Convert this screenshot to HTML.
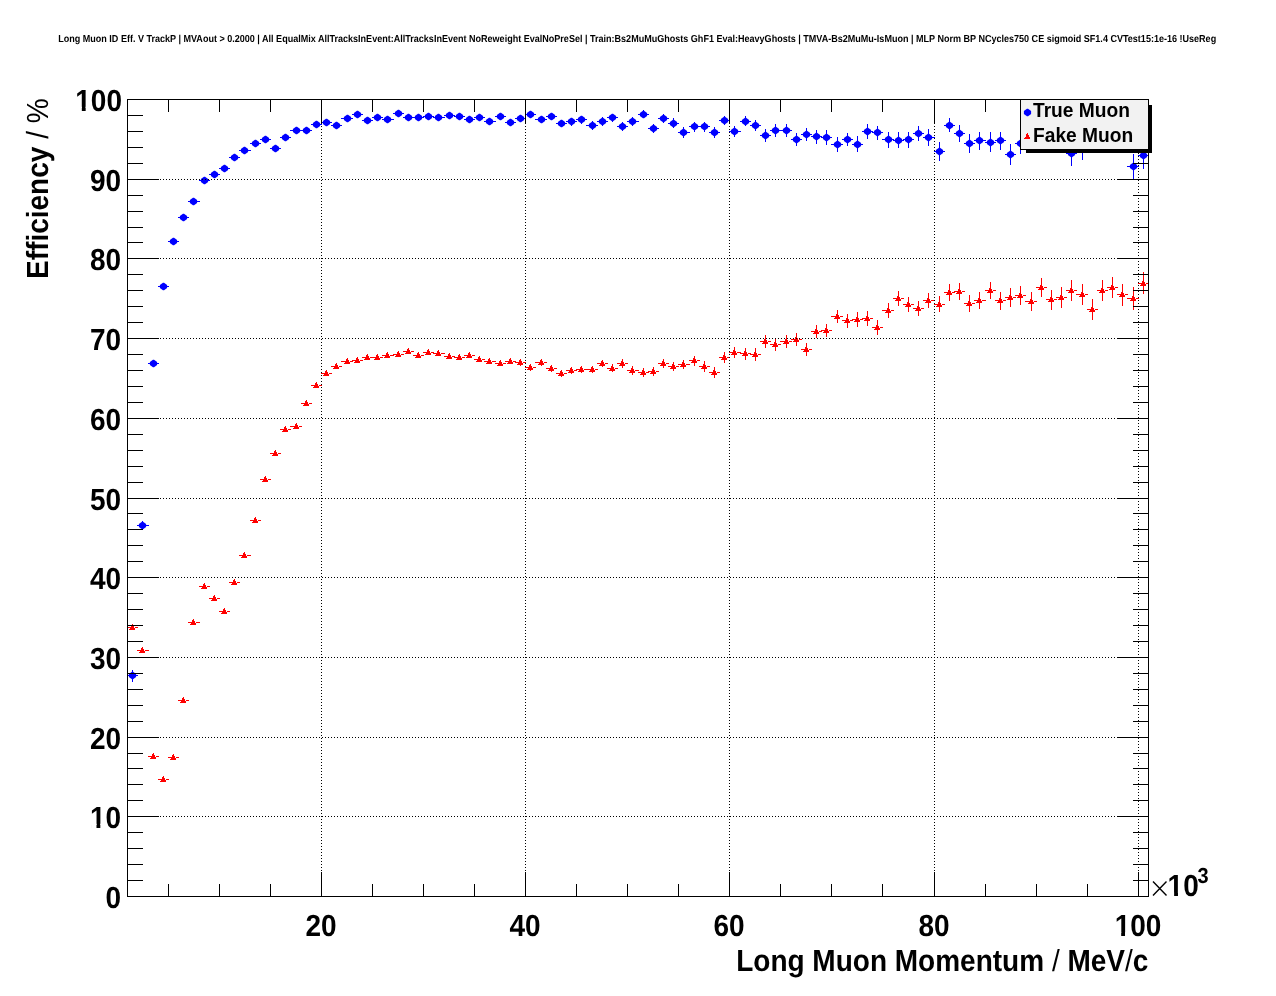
<!DOCTYPE html>
<html><head><meta charset="utf-8"><title>Long Muon ID Eff. V TrackP</title>
<style>
html,body{margin:0;padding:0;background:#fff;}
body{width:1276px;height:996px;position:relative;overflow:hidden;font-family:"Liberation Sans",sans-serif;}
</style></head><body>
<svg width="1276" height="996" viewBox="0 0 1276 996" style="position:absolute;left:0;top:0;will-change:transform">
<g shape-rendering="crispEdges" stroke="#0000ff" stroke-width="1" fill="none">
<path d="M127 675.5H138M132.5 670V682"/>
<path d="M137 525.5H149M142.5 521V530"/>
<path d="M148 363.5H159M153.5 360V366"/>
<path d="M158 286.5H169M163.5 283V290"/>
<path d="M168 241.5H179M173.5 238V245"/>
<path d="M178 217.5H189M183.5 214V221"/>
<path d="M188 201.5H200M193.5 198V205"/>
<path d="M199 180.5H210M204.5 177V184"/>
<path d="M209 174.5H220M214.5 171V178"/>
<path d="M219 168.5H230M224.5 165V172"/>
<path d="M229 157.5H240M234.5 154V161"/>
<path d="M239 150.5H251M244.5 147V154"/>
<path d="M250 143.5H261M255.5 140V147"/>
<path d="M260 139.5H271M265.5 136V143"/>
<path d="M270 148.5H281M275.5 145V152"/>
<path d="M280 137.5H291M285.5 134V141"/>
<path d="M290 130.5H302M296.5 127V134"/>
<path d="M301 130.5H312M306.5 127V134"/>
<path d="M311 124.5H322M316.5 121V128"/>
<path d="M321 122.5H332M326.5 119V126"/>
<path d="M331 125.5H342M336.5 122V129"/>
<path d="M341 118.5H353M347.5 115V122"/>
<path d="M352 114.5H363M357.5 111V118"/>
<path d="M362 120.5H373M367.5 117V124"/>
<path d="M372 117.5H383M377.5 114V121"/>
<path d="M382 119.5H394M387.5 116V123"/>
<path d="M393 113.5H404M398.5 110V117"/>
<path d="M403 117.5H414M408.5 114V121"/>
<path d="M413 117.5H424M418.5 114V121"/>
<path d="M423 116.5H434M428.5 113V120"/>
<path d="M433 117.5H445M438.5 114V121"/>
<path d="M444 115.5H455M449.5 112V119"/>
<path d="M454 116.5H465M459.5 113V120"/>
<path d="M464 119.5H475M469.5 116V123"/>
<path d="M474 117.5H485M479.5 114V121"/>
<path d="M484 121.5H496M489.5 118V125"/>
<path d="M495 116.5H506M500.5 113V120"/>
<path d="M505 122.5H516M510.5 119V126"/>
<path d="M515 118.5H526M520.5 115V122"/>
<path d="M525 114.5H536M530.5 111V118"/>
<path d="M535 119.5H547M541.5 116V123"/>
<path d="M546 116.5H557M551.5 113V120"/>
<path d="M556 123.5H567M561.5 120V127"/>
<path d="M566 121.5H577M571.5 118V126"/>
<path d="M576 119.5H587M581.5 116V124"/>
<path d="M586 125.5H598M592.5 121V130"/>
<path d="M597 121.5H608M602.5 117V126"/>
<path d="M607 117.5H618M612.5 114V122"/>
<path d="M617 126.5H628M622.5 122V131"/>
<path d="M627 121.5H639M632.5 117V126"/>
<path d="M638 114.5H649M643.5 110V118"/>
<path d="M648 128.5H659M653.5 124V133"/>
<path d="M658 118.5H669M663.5 114V123"/>
<path d="M668 123.5H679M673.5 118V128"/>
<path d="M678 132.5H690M683.5 127V138"/>
<path d="M689 126.5H700M694.5 122V132"/>
<path d="M699 126.5H710M704.5 122V132"/>
<path d="M709 132.5H720M714.5 127V138"/>
<path d="M719 120.5H730M724.5 116V125"/>
<path d="M729 131.5H741M734.5 126V137"/>
<path d="M740 121.5H751M745.5 116V126"/>
<path d="M750 125.5H761M755.5 120V131"/>
<path d="M760 135.5H771M765.5 129V142"/>
<path d="M770 130.5H781M775.5 124V137"/>
<path d="M780 130.5H792M786.5 124V137"/>
<path d="M791 139.5H802M796.5 133V146"/>
<path d="M801 134.5H812M806.5 128V141"/>
<path d="M811 136.5H822M816.5 130V144"/>
<path d="M821 137.5H832M826.5 130V145"/>
<path d="M831 144.5H843M837.5 137V152"/>
<path d="M842 139.5H853M847.5 133V146"/>
<path d="M852 144.5H863M857.5 136V152"/>
<path d="M862 131.5H873M867.5 124V139"/>
<path d="M872 132.5H883M877.5 126V140"/>
<path d="M882 139.5H894M888.5 132V148"/>
<path d="M893 140.5H904M898.5 132V148"/>
<path d="M903 139.5H914M908.5 132V148"/>
<path d="M913 133.5H924M918.5 126V141"/>
<path d="M923 137.5H935M928.5 129V146"/>
<path d="M934 151.5H945M939.5 142V161"/>
<path d="M944 125.5H955M949.5 118V132"/>
<path d="M954 133.5H965M959.5 125V142"/>
<path d="M964 143.5H975M969.5 134V153"/>
<path d="M974 140.5H986M979.5 132V150"/>
<path d="M985 142.5H996M990.5 132V152"/>
<path d="M995 140.5H1006M1000.5 132V150"/>
<path d="M1005 154.5H1016M1010.5 144V165"/>
<path d="M1015 143.5H1026M1020.5 133V154"/>
<path d="M1025 124.5H1037M1031.5 114V134"/>
<path d="M1036 124.5H1047M1041.5 114V134"/>
<path d="M1046 124.5H1057M1051.5 114V134"/>
<path d="M1056 124.5H1067M1061.5 114V134"/>
<path d="M1066 153.5H1077M1071.5 142V166"/>
<path d="M1076 148.5H1088M1082.5 136V160"/>
<path d="M1087 124.5H1098M1092.5 114V134"/>
<path d="M1097 124.5H1108M1102.5 114V134"/>
<path d="M1107 124.5H1118M1112.5 114V134"/>
<path d="M1117 124.5H1128M1122.5 114V134"/>
<path d="M1127 166.5H1139M1133.5 154V180"/>
<path d="M1138 155.5H1149M1143.5 142V169"/>
</g>
<g fill="#0000ff">
<path d="M136.10 674.00L136.10 677.00L133.05 679.30L131.95 679.30L128.90 677.00L128.90 674.00L131.95 671.70L133.05 671.70Z"/>
<path d="M146.10 524.00L146.10 527.00L143.05 529.30L141.95 529.30L138.90 527.00L138.90 524.00L141.95 521.70L143.05 521.70Z"/>
<path d="M157.10 362.00L157.10 365.00L154.05 367.30L152.95 367.30L149.90 365.00L149.90 362.00L152.95 359.70L154.05 359.70Z"/>
<path d="M167.10 285.00L167.10 288.00L164.05 290.30L162.95 290.30L159.90 288.00L159.90 285.00L162.95 282.70L164.05 282.70Z"/>
<path d="M177.10 240.00L177.10 243.00L174.05 245.30L172.95 245.30L169.90 243.00L169.90 240.00L172.95 237.70L174.05 237.70Z"/>
<path d="M187.10 216.00L187.10 219.00L184.05 221.30L182.95 221.30L179.90 219.00L179.90 216.00L182.95 213.70L184.05 213.70Z"/>
<path d="M197.10 200.00L197.10 203.00L194.05 205.30L192.95 205.30L189.90 203.00L189.90 200.00L192.95 197.70L194.05 197.70Z"/>
<path d="M208.10 179.00L208.10 182.00L205.05 184.30L203.95 184.30L200.90 182.00L200.90 179.00L203.95 176.70L205.05 176.70Z"/>
<path d="M218.10 173.00L218.10 176.00L215.05 178.30L213.95 178.30L210.90 176.00L210.90 173.00L213.95 170.70L215.05 170.70Z"/>
<path d="M228.10 167.00L228.10 170.00L225.05 172.30L223.95 172.30L220.90 170.00L220.90 167.00L223.95 164.70L225.05 164.70Z"/>
<path d="M238.10 156.00L238.10 159.00L235.05 161.30L233.95 161.30L230.90 159.00L230.90 156.00L233.95 153.70L235.05 153.70Z"/>
<path d="M248.10 149.00L248.10 152.00L245.05 154.30L243.95 154.30L240.90 152.00L240.90 149.00L243.95 146.70L245.05 146.70Z"/>
<path d="M259.10 142.00L259.10 145.00L256.05 147.30L254.95 147.30L251.90 145.00L251.90 142.00L254.95 139.70L256.05 139.70Z"/>
<path d="M269.10 138.00L269.10 141.00L266.05 143.30L264.95 143.30L261.90 141.00L261.90 138.00L264.95 135.70L266.05 135.70Z"/>
<path d="M279.10 147.00L279.10 150.00L276.05 152.30L274.95 152.30L271.90 150.00L271.90 147.00L274.95 144.70L276.05 144.70Z"/>
<path d="M289.10 136.00L289.10 139.00L286.05 141.30L284.95 141.30L281.90 139.00L281.90 136.00L284.95 133.70L286.05 133.70Z"/>
<path d="M300.10 129.00L300.10 132.00L297.05 134.30L295.95 134.30L292.90 132.00L292.90 129.00L295.95 126.70L297.05 126.70Z"/>
<path d="M310.10 129.00L310.10 132.00L307.05 134.30L305.95 134.30L302.90 132.00L302.90 129.00L305.95 126.70L307.05 126.70Z"/>
<path d="M320.10 123.00L320.10 126.00L317.05 128.30L315.95 128.30L312.90 126.00L312.90 123.00L315.95 120.70L317.05 120.70Z"/>
<path d="M330.10 121.00L330.10 124.00L327.05 126.30L325.95 126.30L322.90 124.00L322.90 121.00L325.95 118.70L327.05 118.70Z"/>
<path d="M340.10 124.00L340.10 127.00L337.05 129.30L335.95 129.30L332.90 127.00L332.90 124.00L335.95 121.70L337.05 121.70Z"/>
<path d="M351.10 117.00L351.10 120.00L348.05 122.30L346.95 122.30L343.90 120.00L343.90 117.00L346.95 114.70L348.05 114.70Z"/>
<path d="M361.10 113.00L361.10 116.00L358.05 118.30L356.95 118.30L353.90 116.00L353.90 113.00L356.95 110.70L358.05 110.70Z"/>
<path d="M371.10 119.00L371.10 122.00L368.05 124.30L366.95 124.30L363.90 122.00L363.90 119.00L366.95 116.70L368.05 116.70Z"/>
<path d="M381.10 116.00L381.10 119.00L378.05 121.30L376.95 121.30L373.90 119.00L373.90 116.00L376.95 113.70L378.05 113.70Z"/>
<path d="M391.10 118.00L391.10 121.00L388.05 123.30L386.95 123.30L383.90 121.00L383.90 118.00L386.95 115.70L388.05 115.70Z"/>
<path d="M402.10 112.00L402.10 115.00L399.05 117.30L397.95 117.30L394.90 115.00L394.90 112.00L397.95 109.70L399.05 109.70Z"/>
<path d="M412.10 116.00L412.10 119.00L409.05 121.30L407.95 121.30L404.90 119.00L404.90 116.00L407.95 113.70L409.05 113.70Z"/>
<path d="M422.10 116.00L422.10 119.00L419.05 121.30L417.95 121.30L414.90 119.00L414.90 116.00L417.95 113.70L419.05 113.70Z"/>
<path d="M432.10 115.00L432.10 118.00L429.05 120.30L427.95 120.30L424.90 118.00L424.90 115.00L427.95 112.70L429.05 112.70Z"/>
<path d="M442.10 116.00L442.10 119.00L439.05 121.30L437.95 121.30L434.90 119.00L434.90 116.00L437.95 113.70L439.05 113.70Z"/>
<path d="M453.10 114.00L453.10 117.00L450.05 119.30L448.95 119.30L445.90 117.00L445.90 114.00L448.95 111.70L450.05 111.70Z"/>
<path d="M463.10 115.00L463.10 118.00L460.05 120.30L458.95 120.30L455.90 118.00L455.90 115.00L458.95 112.70L460.05 112.70Z"/>
<path d="M473.10 118.00L473.10 121.00L470.05 123.30L468.95 123.30L465.90 121.00L465.90 118.00L468.95 115.70L470.05 115.70Z"/>
<path d="M483.10 116.00L483.10 119.00L480.05 121.30L478.95 121.30L475.90 119.00L475.90 116.00L478.95 113.70L480.05 113.70Z"/>
<path d="M493.10 120.00L493.10 123.00L490.05 125.30L488.95 125.30L485.90 123.00L485.90 120.00L488.95 117.70L490.05 117.70Z"/>
<path d="M504.10 115.00L504.10 118.00L501.05 120.30L499.95 120.30L496.90 118.00L496.90 115.00L499.95 112.70L501.05 112.70Z"/>
<path d="M514.10 121.00L514.10 124.00L511.05 126.30L509.95 126.30L506.90 124.00L506.90 121.00L509.95 118.70L511.05 118.70Z"/>
<path d="M524.10 117.00L524.10 120.00L521.05 122.30L519.95 122.30L516.90 120.00L516.90 117.00L519.95 114.70L521.05 114.70Z"/>
<path d="M534.10 113.00L534.10 116.00L531.05 118.30L529.95 118.30L526.90 116.00L526.90 113.00L529.95 110.70L531.05 110.70Z"/>
<path d="M545.10 118.00L545.10 121.00L542.05 123.30L540.95 123.30L537.90 121.00L537.90 118.00L540.95 115.70L542.05 115.70Z"/>
<path d="M555.10 115.00L555.10 118.00L552.05 120.30L550.95 120.30L547.90 118.00L547.90 115.00L550.95 112.70L552.05 112.70Z"/>
<path d="M565.10 122.00L565.10 125.00L562.05 127.30L560.95 127.30L557.90 125.00L557.90 122.00L560.95 119.70L562.05 119.70Z"/>
<path d="M575.10 120.00L575.10 123.00L572.05 125.30L570.95 125.30L567.90 123.00L567.90 120.00L570.95 117.70L572.05 117.70Z"/>
<path d="M585.10 118.00L585.10 121.00L582.05 123.30L580.95 123.30L577.90 121.00L577.90 118.00L580.95 115.70L582.05 115.70Z"/>
<path d="M596.10 124.00L596.10 127.00L593.05 129.30L591.95 129.30L588.90 127.00L588.90 124.00L591.95 121.70L593.05 121.70Z"/>
<path d="M606.10 120.00L606.10 123.00L603.05 125.30L601.95 125.30L598.90 123.00L598.90 120.00L601.95 117.70L603.05 117.70Z"/>
<path d="M616.10 116.00L616.10 119.00L613.05 121.30L611.95 121.30L608.90 119.00L608.90 116.00L611.95 113.70L613.05 113.70Z"/>
<path d="M626.10 125.00L626.10 128.00L623.05 130.30L621.95 130.30L618.90 128.00L618.90 125.00L621.95 122.70L623.05 122.70Z"/>
<path d="M636.10 120.00L636.10 123.00L633.05 125.30L631.95 125.30L628.90 123.00L628.90 120.00L631.95 117.70L633.05 117.70Z"/>
<path d="M647.10 113.00L647.10 116.00L644.05 118.30L642.95 118.30L639.90 116.00L639.90 113.00L642.95 110.70L644.05 110.70Z"/>
<path d="M657.10 127.00L657.10 130.00L654.05 132.30L652.95 132.30L649.90 130.00L649.90 127.00L652.95 124.70L654.05 124.70Z"/>
<path d="M667.10 117.00L667.10 120.00L664.05 122.30L662.95 122.30L659.90 120.00L659.90 117.00L662.95 114.70L664.05 114.70Z"/>
<path d="M677.10 122.00L677.10 125.00L674.05 127.30L672.95 127.30L669.90 125.00L669.90 122.00L672.95 119.70L674.05 119.70Z"/>
<path d="M687.10 131.00L687.10 134.00L684.05 136.30L682.95 136.30L679.90 134.00L679.90 131.00L682.95 128.70L684.05 128.70Z"/>
<path d="M698.10 125.00L698.10 128.00L695.05 130.30L693.95 130.30L690.90 128.00L690.90 125.00L693.95 122.70L695.05 122.70Z"/>
<path d="M708.10 125.00L708.10 128.00L705.05 130.30L703.95 130.30L700.90 128.00L700.90 125.00L703.95 122.70L705.05 122.70Z"/>
<path d="M718.10 131.00L718.10 134.00L715.05 136.30L713.95 136.30L710.90 134.00L710.90 131.00L713.95 128.70L715.05 128.70Z"/>
<path d="M728.10 119.00L728.10 122.00L725.05 124.30L723.95 124.30L720.90 122.00L720.90 119.00L723.95 116.70L725.05 116.70Z"/>
<path d="M738.10 130.00L738.10 133.00L735.05 135.30L733.95 135.30L730.90 133.00L730.90 130.00L733.95 127.70L735.05 127.70Z"/>
<path d="M749.10 120.00L749.10 123.00L746.05 125.30L744.95 125.30L741.90 123.00L741.90 120.00L744.95 117.70L746.05 117.70Z"/>
<path d="M759.10 124.00L759.10 127.00L756.05 129.30L754.95 129.30L751.90 127.00L751.90 124.00L754.95 121.70L756.05 121.70Z"/>
<path d="M769.10 134.00L769.10 137.00L766.05 139.30L764.95 139.30L761.90 137.00L761.90 134.00L764.95 131.70L766.05 131.70Z"/>
<path d="M779.10 129.00L779.10 132.00L776.05 134.30L774.95 134.30L771.90 132.00L771.90 129.00L774.95 126.70L776.05 126.70Z"/>
<path d="M790.10 129.00L790.10 132.00L787.05 134.30L785.95 134.30L782.90 132.00L782.90 129.00L785.95 126.70L787.05 126.70Z"/>
<path d="M800.10 138.00L800.10 141.00L797.05 143.30L795.95 143.30L792.90 141.00L792.90 138.00L795.95 135.70L797.05 135.70Z"/>
<path d="M810.10 133.00L810.10 136.00L807.05 138.30L805.95 138.30L802.90 136.00L802.90 133.00L805.95 130.70L807.05 130.70Z"/>
<path d="M820.10 135.00L820.10 138.00L817.05 140.30L815.95 140.30L812.90 138.00L812.90 135.00L815.95 132.70L817.05 132.70Z"/>
<path d="M830.10 136.00L830.10 139.00L827.05 141.30L825.95 141.30L822.90 139.00L822.90 136.00L825.95 133.70L827.05 133.70Z"/>
<path d="M841.10 143.00L841.10 146.00L838.05 148.30L836.95 148.30L833.90 146.00L833.90 143.00L836.95 140.70L838.05 140.70Z"/>
<path d="M851.10 138.00L851.10 141.00L848.05 143.30L846.95 143.30L843.90 141.00L843.90 138.00L846.95 135.70L848.05 135.70Z"/>
<path d="M861.10 143.00L861.10 146.00L858.05 148.30L856.95 148.30L853.90 146.00L853.90 143.00L856.95 140.70L858.05 140.70Z"/>
<path d="M871.10 130.00L871.10 133.00L868.05 135.30L866.95 135.30L863.90 133.00L863.90 130.00L866.95 127.70L868.05 127.70Z"/>
<path d="M881.10 131.00L881.10 134.00L878.05 136.30L876.95 136.30L873.90 134.00L873.90 131.00L876.95 128.70L878.05 128.70Z"/>
<path d="M892.10 138.00L892.10 141.00L889.05 143.30L887.95 143.30L884.90 141.00L884.90 138.00L887.95 135.70L889.05 135.70Z"/>
<path d="M902.10 139.00L902.10 142.00L899.05 144.30L897.95 144.30L894.90 142.00L894.90 139.00L897.95 136.70L899.05 136.70Z"/>
<path d="M912.10 138.00L912.10 141.00L909.05 143.30L907.95 143.30L904.90 141.00L904.90 138.00L907.95 135.70L909.05 135.70Z"/>
<path d="M922.10 132.00L922.10 135.00L919.05 137.30L917.95 137.30L914.90 135.00L914.90 132.00L917.95 129.70L919.05 129.70Z"/>
<path d="M932.10 136.00L932.10 139.00L929.05 141.30L927.95 141.30L924.90 139.00L924.90 136.00L927.95 133.70L929.05 133.70Z"/>
<path d="M943.10 150.00L943.10 153.00L940.05 155.30L938.95 155.30L935.90 153.00L935.90 150.00L938.95 147.70L940.05 147.70Z"/>
<path d="M953.10 124.00L953.10 127.00L950.05 129.30L948.95 129.30L945.90 127.00L945.90 124.00L948.95 121.70L950.05 121.70Z"/>
<path d="M963.10 132.00L963.10 135.00L960.05 137.30L958.95 137.30L955.90 135.00L955.90 132.00L958.95 129.70L960.05 129.70Z"/>
<path d="M973.10 142.00L973.10 145.00L970.05 147.30L968.95 147.30L965.90 145.00L965.90 142.00L968.95 139.70L970.05 139.70Z"/>
<path d="M983.10 139.00L983.10 142.00L980.05 144.30L978.95 144.30L975.90 142.00L975.90 139.00L978.95 136.70L980.05 136.70Z"/>
<path d="M994.10 141.00L994.10 144.00L991.05 146.30L989.95 146.30L986.90 144.00L986.90 141.00L989.95 138.70L991.05 138.70Z"/>
<path d="M1004.10 139.00L1004.10 142.00L1001.05 144.30L999.95 144.30L996.90 142.00L996.90 139.00L999.95 136.70L1001.05 136.70Z"/>
<path d="M1014.10 153.00L1014.10 156.00L1011.05 158.30L1009.95 158.30L1006.90 156.00L1006.90 153.00L1009.95 150.70L1011.05 150.70Z"/>
<path d="M1024.10 142.00L1024.10 145.00L1021.05 147.30L1019.95 147.30L1016.90 145.00L1016.90 142.00L1019.95 139.70L1021.05 139.70Z"/>
<path d="M1035.10 123.00L1035.10 126.00L1032.05 128.30L1030.95 128.30L1027.90 126.00L1027.90 123.00L1030.95 120.70L1032.05 120.70Z"/>
<path d="M1045.10 123.00L1045.10 126.00L1042.05 128.30L1040.95 128.30L1037.90 126.00L1037.90 123.00L1040.95 120.70L1042.05 120.70Z"/>
<path d="M1055.10 123.00L1055.10 126.00L1052.05 128.30L1050.95 128.30L1047.90 126.00L1047.90 123.00L1050.95 120.70L1052.05 120.70Z"/>
<path d="M1065.10 123.00L1065.10 126.00L1062.05 128.30L1060.95 128.30L1057.90 126.00L1057.90 123.00L1060.95 120.70L1062.05 120.70Z"/>
<path d="M1075.10 152.00L1075.10 155.00L1072.05 157.30L1070.95 157.30L1067.90 155.00L1067.90 152.00L1070.95 149.70L1072.05 149.70Z"/>
<path d="M1086.10 147.00L1086.10 150.00L1083.05 152.30L1081.95 152.30L1078.90 150.00L1078.90 147.00L1081.95 144.70L1083.05 144.70Z"/>
<path d="M1096.10 123.00L1096.10 126.00L1093.05 128.30L1091.95 128.30L1088.90 126.00L1088.90 123.00L1091.95 120.70L1093.05 120.70Z"/>
<path d="M1106.10 123.00L1106.10 126.00L1103.05 128.30L1101.95 128.30L1098.90 126.00L1098.90 123.00L1101.95 120.70L1103.05 120.70Z"/>
<path d="M1116.10 123.00L1116.10 126.00L1113.05 128.30L1111.95 128.30L1108.90 126.00L1108.90 123.00L1111.95 120.70L1113.05 120.70Z"/>
<path d="M1126.10 123.00L1126.10 126.00L1123.05 128.30L1121.95 128.30L1118.90 126.00L1118.90 123.00L1121.95 120.70L1123.05 120.70Z"/>
<path d="M1137.10 165.00L1137.10 168.00L1134.05 170.30L1132.95 170.30L1129.90 168.00L1129.90 165.00L1132.95 162.70L1134.05 162.70Z"/>
<path d="M1147.10 154.00L1147.10 157.00L1144.05 159.30L1142.95 159.30L1139.90 157.00L1139.90 154.00L1142.95 151.70L1144.05 151.70Z"/>
</g>
<g shape-rendering="crispEdges" stroke="#ff0000" stroke-width="1" fill="none">
<path d="M127 627.5H134.0M135.0 627.5H138M132.5 626V630"/>
<path d="M137 650.5H144.0M145.0 650.5H149M142.5 648V653"/>
<path d="M148 756.5H155.0M156.0 756.5H159M153.5 754V759"/>
<path d="M158 779.5H165.0M166.0 779.5H169M163.5 777V782"/>
<path d="M168 757.5H175.0M176.0 757.5H179M173.5 755V760"/>
<path d="M178 700.5H185.0M186.0 700.5H189M183.5 698V703"/>
<path d="M188 622.5H195.0M196.0 622.5H200M193.5 620V625"/>
<path d="M199 586.5H206.0M207.0 586.5H210M204.5 584V589"/>
<path d="M209 598.5H216.0M217.0 598.5H220M214.5 596V601"/>
<path d="M219 611.5H226.0M227.0 611.5H230M224.5 609V614"/>
<path d="M229 582.5H236.0M237.0 582.5H240M234.5 580V585"/>
<path d="M239 555.5H246.0M247.0 555.5H251M244.5 553V558"/>
<path d="M250 520.5H257.0M258.0 520.5H261M255.5 518V523"/>
<path d="M260 479.5H267.0M268.0 479.5H271M265.5 477V482"/>
<path d="M270 453.5H277.0M278.0 453.5H281M275.5 451V456"/>
<path d="M280 429.5H287.0M288.0 429.5H291M285.5 427V432"/>
<path d="M290 426.5H298.0M299.0 426.5H302M296.5 424V429"/>
<path d="M301 403.5H308.0M309.0 403.5H312M306.5 401V406"/>
<path d="M311 385.5H318.0M319.0 385.5H322M316.5 383V388"/>
<path d="M321 373.5H328.0M329.0 373.5H332M326.5 371V376"/>
<path d="M331 366.5H338.0M339.0 366.5H342M336.5 364V369"/>
<path d="M341 361.5H349.0M350.0 361.5H353M347.5 359V364"/>
<path d="M352 360.5H359.0M360.0 360.5H363M357.5 358V363"/>
<path d="M362 357.5H369.0M370.0 357.5H373M367.5 355V360"/>
<path d="M372 357.5H379.0M380.0 357.5H383M377.5 355V360"/>
<path d="M382 355.5H389.0M390.0 355.5H394M387.5 353V358"/>
<path d="M393 354.5H400.0M401.0 354.5H404M398.5 352V357"/>
<path d="M403 351.5H410.0M411.0 351.5H414M408.5 349V354"/>
<path d="M413 355.5H420.0M421.0 355.5H424M418.5 353V358"/>
<path d="M423 352.5H430.0M431.0 352.5H434M428.5 350V355"/>
<path d="M433 353.5H440.0M441.0 353.5H445M438.5 351V356"/>
<path d="M444 356.5H451.0M452.0 356.5H455M449.5 354V359"/>
<path d="M454 357.5H461.0M462.0 357.5H465M459.5 355V360"/>
<path d="M464 355.5H471.0M472.0 355.5H475M469.5 353V358"/>
<path d="M474 359.5H481.0M482.0 359.5H485M479.5 357V362"/>
<path d="M484 361.5H491.0M492.0 361.5H496M489.5 359V364"/>
<path d="M495 363.5H502.0M503.0 363.5H506M500.5 361V366"/>
<path d="M505 361.5H512.0M513.0 361.5H516M510.5 359V364"/>
<path d="M515 362.5H522.0M523.0 362.5H526M520.5 359V366"/>
<path d="M525 367.5H532.0M533.0 367.5H536M530.5 364V371"/>
<path d="M535 362.5H543.0M544.0 362.5H547M541.5 359V366"/>
<path d="M546 368.5H553.0M554.0 368.5H557M551.5 365V372"/>
<path d="M556 373.5H563.0M564.0 373.5H567M561.5 370V377"/>
<path d="M566 370.5H573.0M574.0 370.5H577M571.5 367V374"/>
<path d="M576 369.5H583.0M584.0 369.5H587M581.5 366V373"/>
<path d="M586 369.5H594.0M595.0 369.5H598M592.5 366V373"/>
<path d="M597 363.5H604.0M605.0 363.5H608M602.5 360V367"/>
<path d="M607 368.5H614.0M615.0 368.5H618M612.5 364V372"/>
<path d="M617 363.5H624.0M625.0 363.5H628M622.5 359V368"/>
<path d="M627 370.5H634.0M635.0 370.5H639M632.5 366V375"/>
<path d="M638 372.5H645.0M646.0 372.5H649M643.5 368V377"/>
<path d="M648 371.5H655.0M656.0 371.5H659M653.5 367V376"/>
<path d="M658 363.5H665.0M666.0 363.5H669M663.5 359V368"/>
<path d="M668 366.5H675.0M676.0 366.5H679M673.5 362V371"/>
<path d="M678 364.5H685.0M686.0 364.5H690M683.5 360V369"/>
<path d="M689 360.5H696.0M697.0 360.5H700M694.5 356V366"/>
<path d="M699 366.5H706.0M707.0 366.5H710M704.5 361V372"/>
<path d="M709 372.5H716.0M717.0 372.5H720M714.5 367V378"/>
<path d="M719 357.5H726.0M727.0 357.5H730M724.5 352V363"/>
<path d="M729 352.5H736.0M737.0 352.5H741M734.5 347V358"/>
<path d="M740 353.5H747.0M748.0 353.5H751M745.5 348V360"/>
<path d="M750 354.5H757.0M758.0 354.5H761M755.5 348V361"/>
<path d="M760 341.5H767.0M768.0 341.5H771M765.5 335V348"/>
<path d="M770 344.5H777.0M778.0 344.5H781M775.5 338V351"/>
<path d="M780 341.5H788.0M789.0 341.5H792M786.5 335V348"/>
<path d="M791 339.5H798.0M799.0 339.5H802M796.5 333V346"/>
<path d="M801 349.5H808.0M809.0 349.5H812M806.5 343V356"/>
<path d="M811 331.5H818.0M819.0 331.5H822M816.5 325V338"/>
<path d="M821 330.5H828.0M829.0 330.5H832M826.5 324V337"/>
<path d="M831 316.5H839.0M840.0 316.5H843M837.5 310V323"/>
<path d="M842 320.5H849.0M850.0 320.5H853M847.5 314V328"/>
<path d="M852 319.5H859.0M860.0 319.5H863M857.5 312V327"/>
<path d="M862 318.5H869.0M870.0 318.5H873M867.5 311V326"/>
<path d="M872 327.5H879.0M880.0 327.5H883M877.5 320V335"/>
<path d="M882 310.5H890.0M891.0 310.5H894M888.5 303V318"/>
<path d="M893 298.5H900.0M901.0 298.5H904M898.5 291V306"/>
<path d="M903 304.5H910.0M911.0 304.5H914M908.5 297V312"/>
<path d="M913 308.5H920.0M921.0 308.5H924M918.5 301V316"/>
<path d="M923 300.5H930.0M931.0 300.5H935M928.5 293V308"/>
<path d="M934 304.5H941.0M942.0 304.5H945M939.5 296V312"/>
<path d="M944 292.5H951.0M952.0 292.5H955M949.5 284V301"/>
<path d="M954 291.5H961.0M962.0 291.5H965M959.5 283V300"/>
<path d="M964 303.5H971.0M972.0 303.5H975M969.5 295V312"/>
<path d="M974 300.5H981.0M982.0 300.5H986M979.5 292V309"/>
<path d="M985 290.5H992.0M993.0 290.5H996M990.5 282V299"/>
<path d="M995 300.5H1002.0M1003.0 300.5H1006M1000.5 292V310"/>
<path d="M1005 297.5H1012.0M1013.0 297.5H1016M1010.5 288V307"/>
<path d="M1015 295.5H1022.0M1023.0 295.5H1026M1020.5 286V305"/>
<path d="M1025 301.5H1033.0M1034.0 301.5H1037M1031.5 292V311"/>
<path d="M1036 287.5H1043.0M1044.0 287.5H1047M1041.5 278V297"/>
<path d="M1046 299.5H1053.0M1054.0 299.5H1057M1051.5 290V310"/>
<path d="M1056 297.5H1063.0M1064.0 297.5H1067M1061.5 287V308"/>
<path d="M1066 290.5H1073.0M1074.0 290.5H1077M1071.5 280V301"/>
<path d="M1076 294.5H1084.0M1085.0 294.5H1088M1082.5 284V305"/>
<path d="M1087 309.5H1094.0M1095.0 309.5H1098M1092.5 299V320"/>
<path d="M1097 290.5H1104.0M1105.0 290.5H1108M1102.5 280V301"/>
<path d="M1107 287.5H1114.0M1115.0 287.5H1118M1112.5 277V298"/>
<path d="M1117 294.5H1124.0M1125.0 294.5H1128M1122.5 284V306"/>
<path d="M1127 298.5H1135.0M1136.0 298.5H1139M1133.5 287V310"/>
<path d="M1138 283.5H1145.0M1146.0 283.5H1149M1143.5 272V294"/>
</g>
<g fill="#ff0000" shape-rendering="crispEdges">
<path d="M132 624h1v2h1v2h1v2h-6v-1h1v-1h1v-3h1z"/>
<path d="M142 647h1v2h1v2h1v2h-6v-1h1v-1h1v-3h1z"/>
<path d="M153 753h1v2h1v2h1v2h-6v-1h1v-1h1v-3h1z"/>
<path d="M163 776h1v2h1v2h1v2h-6v-1h1v-1h1v-3h1z"/>
<path d="M173 754h1v2h1v2h1v2h-6v-1h1v-1h1v-3h1z"/>
<path d="M183 697h1v2h1v2h1v2h-6v-1h1v-1h1v-3h1z"/>
<path d="M193 619h1v2h1v2h1v2h-6v-1h1v-1h1v-3h1z"/>
<path d="M204 583h1v2h1v2h1v2h-6v-1h1v-1h1v-3h1z"/>
<path d="M214 595h1v2h1v2h1v2h-6v-1h1v-1h1v-3h1z"/>
<path d="M224 608h1v2h1v2h1v2h-6v-1h1v-1h1v-3h1z"/>
<path d="M234 579h1v2h1v2h1v2h-6v-1h1v-1h1v-3h1z"/>
<path d="M244 552h1v2h1v2h1v2h-6v-1h1v-1h1v-3h1z"/>
<path d="M255 517h1v2h1v2h1v2h-6v-1h1v-1h1v-3h1z"/>
<path d="M265 476h1v2h1v2h1v2h-6v-1h1v-1h1v-3h1z"/>
<path d="M275 450h1v2h1v2h1v2h-6v-1h1v-1h1v-3h1z"/>
<path d="M285 426h1v2h1v2h1v2h-6v-1h1v-1h1v-3h1z"/>
<path d="M296 423h1v2h1v2h1v2h-6v-1h1v-1h1v-3h1z"/>
<path d="M306 400h1v2h1v2h1v2h-6v-1h1v-1h1v-3h1z"/>
<path d="M316 382h1v2h1v2h1v2h-6v-1h1v-1h1v-3h1z"/>
<path d="M326 370h1v2h1v2h1v2h-6v-1h1v-1h1v-3h1z"/>
<path d="M336 363h1v2h1v2h1v2h-6v-1h1v-1h1v-3h1z"/>
<path d="M347 358h1v2h1v2h1v2h-6v-1h1v-1h1v-3h1z"/>
<path d="M357 357h1v2h1v2h1v2h-6v-1h1v-1h1v-3h1z"/>
<path d="M367 354h1v2h1v2h1v2h-6v-1h1v-1h1v-3h1z"/>
<path d="M377 354h1v2h1v2h1v2h-6v-1h1v-1h1v-3h1z"/>
<path d="M387 352h1v2h1v2h1v2h-6v-1h1v-1h1v-3h1z"/>
<path d="M398 351h1v2h1v2h1v2h-6v-1h1v-1h1v-3h1z"/>
<path d="M408 348h1v2h1v2h1v2h-6v-1h1v-1h1v-3h1z"/>
<path d="M418 352h1v2h1v2h1v2h-6v-1h1v-1h1v-3h1z"/>
<path d="M428 349h1v2h1v2h1v2h-6v-1h1v-1h1v-3h1z"/>
<path d="M438 350h1v2h1v2h1v2h-6v-1h1v-1h1v-3h1z"/>
<path d="M449 353h1v2h1v2h1v2h-6v-1h1v-1h1v-3h1z"/>
<path d="M459 354h1v2h1v2h1v2h-6v-1h1v-1h1v-3h1z"/>
<path d="M469 352h1v2h1v2h1v2h-6v-1h1v-1h1v-3h1z"/>
<path d="M479 356h1v2h1v2h1v2h-6v-1h1v-1h1v-3h1z"/>
<path d="M489 358h1v2h1v2h1v2h-6v-1h1v-1h1v-3h1z"/>
<path d="M500 360h1v2h1v2h1v2h-6v-1h1v-1h1v-3h1z"/>
<path d="M510 358h1v2h1v2h1v2h-6v-1h1v-1h1v-3h1z"/>
<path d="M520 359h1v2h1v2h1v2h-6v-1h1v-1h1v-3h1z"/>
<path d="M530 364h1v2h1v2h1v2h-6v-1h1v-1h1v-3h1z"/>
<path d="M541 359h1v2h1v2h1v2h-6v-1h1v-1h1v-3h1z"/>
<path d="M551 365h1v2h1v2h1v2h-6v-1h1v-1h1v-3h1z"/>
<path d="M561 370h1v2h1v2h1v2h-6v-1h1v-1h1v-3h1z"/>
<path d="M571 367h1v2h1v2h1v2h-6v-1h1v-1h1v-3h1z"/>
<path d="M581 366h1v2h1v2h1v2h-6v-1h1v-1h1v-3h1z"/>
<path d="M592 366h1v2h1v2h1v2h-6v-1h1v-1h1v-3h1z"/>
<path d="M602 360h1v2h1v2h1v2h-6v-1h1v-1h1v-3h1z"/>
<path d="M612 365h1v2h1v2h1v2h-6v-1h1v-1h1v-3h1z"/>
<path d="M622 360h1v2h1v2h1v2h-6v-1h1v-1h1v-3h1z"/>
<path d="M632 367h1v2h1v2h1v2h-6v-1h1v-1h1v-3h1z"/>
<path d="M643 369h1v2h1v2h1v2h-6v-1h1v-1h1v-3h1z"/>
<path d="M653 368h1v2h1v2h1v2h-6v-1h1v-1h1v-3h1z"/>
<path d="M663 360h1v2h1v2h1v2h-6v-1h1v-1h1v-3h1z"/>
<path d="M673 363h1v2h1v2h1v2h-6v-1h1v-1h1v-3h1z"/>
<path d="M683 361h1v2h1v2h1v2h-6v-1h1v-1h1v-3h1z"/>
<path d="M694 357h1v2h1v2h1v2h-6v-1h1v-1h1v-3h1z"/>
<path d="M704 363h1v2h1v2h1v2h-6v-1h1v-1h1v-3h1z"/>
<path d="M714 369h1v2h1v2h1v2h-6v-1h1v-1h1v-3h1z"/>
<path d="M724 354h1v2h1v2h1v2h-6v-1h1v-1h1v-3h1z"/>
<path d="M734 349h1v2h1v2h1v2h-6v-1h1v-1h1v-3h1z"/>
<path d="M745 350h1v2h1v2h1v2h-6v-1h1v-1h1v-3h1z"/>
<path d="M755 351h1v2h1v2h1v2h-6v-1h1v-1h1v-3h1z"/>
<path d="M765 338h1v2h1v2h1v2h-6v-1h1v-1h1v-3h1z"/>
<path d="M775 341h1v2h1v2h1v2h-6v-1h1v-1h1v-3h1z"/>
<path d="M786 338h1v2h1v2h1v2h-6v-1h1v-1h1v-3h1z"/>
<path d="M796 336h1v2h1v2h1v2h-6v-1h1v-1h1v-3h1z"/>
<path d="M806 346h1v2h1v2h1v2h-6v-1h1v-1h1v-3h1z"/>
<path d="M816 328h1v2h1v2h1v2h-6v-1h1v-1h1v-3h1z"/>
<path d="M826 327h1v2h1v2h1v2h-6v-1h1v-1h1v-3h1z"/>
<path d="M837 313h1v2h1v2h1v2h-6v-1h1v-1h1v-3h1z"/>
<path d="M847 317h1v2h1v2h1v2h-6v-1h1v-1h1v-3h1z"/>
<path d="M857 316h1v2h1v2h1v2h-6v-1h1v-1h1v-3h1z"/>
<path d="M867 315h1v2h1v2h1v2h-6v-1h1v-1h1v-3h1z"/>
<path d="M877 324h1v2h1v2h1v2h-6v-1h1v-1h1v-3h1z"/>
<path d="M888 307h1v2h1v2h1v2h-6v-1h1v-1h1v-3h1z"/>
<path d="M898 295h1v2h1v2h1v2h-6v-1h1v-1h1v-3h1z"/>
<path d="M908 301h1v2h1v2h1v2h-6v-1h1v-1h1v-3h1z"/>
<path d="M918 305h1v2h1v2h1v2h-6v-1h1v-1h1v-3h1z"/>
<path d="M928 297h1v2h1v2h1v2h-6v-1h1v-1h1v-3h1z"/>
<path d="M939 301h1v2h1v2h1v2h-6v-1h1v-1h1v-3h1z"/>
<path d="M949 289h1v2h1v2h1v2h-6v-1h1v-1h1v-3h1z"/>
<path d="M959 288h1v2h1v2h1v2h-6v-1h1v-1h1v-3h1z"/>
<path d="M969 300h1v2h1v2h1v2h-6v-1h1v-1h1v-3h1z"/>
<path d="M979 297h1v2h1v2h1v2h-6v-1h1v-1h1v-3h1z"/>
<path d="M990 287h1v2h1v2h1v2h-6v-1h1v-1h1v-3h1z"/>
<path d="M1000 297h1v2h1v2h1v2h-6v-1h1v-1h1v-3h1z"/>
<path d="M1010 294h1v2h1v2h1v2h-6v-1h1v-1h1v-3h1z"/>
<path d="M1020 292h1v2h1v2h1v2h-6v-1h1v-1h1v-3h1z"/>
<path d="M1031 298h1v2h1v2h1v2h-6v-1h1v-1h1v-3h1z"/>
<path d="M1041 284h1v2h1v2h1v2h-6v-1h1v-1h1v-3h1z"/>
<path d="M1051 296h1v2h1v2h1v2h-6v-1h1v-1h1v-3h1z"/>
<path d="M1061 294h1v2h1v2h1v2h-6v-1h1v-1h1v-3h1z"/>
<path d="M1071 287h1v2h1v2h1v2h-6v-1h1v-1h1v-3h1z"/>
<path d="M1082 291h1v2h1v2h1v2h-6v-1h1v-1h1v-3h1z"/>
<path d="M1092 306h1v2h1v2h1v2h-6v-1h1v-1h1v-3h1z"/>
<path d="M1102 287h1v2h1v2h1v2h-6v-1h1v-1h1v-3h1z"/>
<path d="M1112 284h1v2h1v2h1v2h-6v-1h1v-1h1v-3h1z"/>
<path d="M1122 291h1v2h1v2h1v2h-6v-1h1v-1h1v-3h1z"/>
<path d="M1133 295h1v2h1v2h1v2h-6v-1h1v-1h1v-3h1z"/>
<path d="M1143 280h1v2h1v2h1v2h-6v-1h1v-1h1v-3h1z"/>
</g>
<g shape-rendering="crispEdges" stroke="#000" stroke-width="1" stroke-dasharray="1 2" fill="none">
<path d="M127 816.5H1149"/>
<path d="M127 737.5H1149"/>
<path d="M127 657.5H1149"/>
<path d="M127 577.5H1149"/>
<path d="M127 498.5H1149"/>
<path d="M127 418.5H1149"/>
<path d="M127 338.5H1149"/>
<path d="M127 258.5H1149"/>
<path d="M127 179.5H1149"/>
<path d="M321.5 99V897"/>
<path d="M525.5 99V897"/>
<path d="M729.5 99V897"/>
<path d="M934.5 99V897"/>
<path d="M1138.5 99V897"/>
</g>
<g shape-rendering="crispEdges" stroke="#000" stroke-width="1" fill="none">
<rect x="127.5" y="99.5" width="1021" height="797"/>
<path d="M127 896.5H159M1149 896.5H1117"/>
<path d="M127 880.5H143M1149 880.5H1133"/>
<path d="M127 864.5H143M1149 864.5H1133"/>
<path d="M127 848.5H143M1149 848.5H1133"/>
<path d="M127 832.5H143M1149 832.5H1133"/>
<path d="M127 816.5H159M1149 816.5H1117"/>
<path d="M127 800.5H143M1149 800.5H1133"/>
<path d="M127 784.5H143M1149 784.5H1133"/>
<path d="M127 768.5H143M1149 768.5H1133"/>
<path d="M127 753.5H143M1149 753.5H1133"/>
<path d="M127 737.5H159M1149 737.5H1117"/>
<path d="M127 721.5H143M1149 721.5H1133"/>
<path d="M127 705.5H143M1149 705.5H1133"/>
<path d="M127 689.5H143M1149 689.5H1133"/>
<path d="M127 673.5H143M1149 673.5H1133"/>
<path d="M127 657.5H159M1149 657.5H1117"/>
<path d="M127 641.5H143M1149 641.5H1133"/>
<path d="M127 625.5H143M1149 625.5H1133"/>
<path d="M127 609.5H143M1149 609.5H1133"/>
<path d="M127 593.5H143M1149 593.5H1133"/>
<path d="M127 577.5H159M1149 577.5H1117"/>
<path d="M127 561.5H143M1149 561.5H1133"/>
<path d="M127 545.5H143M1149 545.5H1133"/>
<path d="M127 529.5H143M1149 529.5H1133"/>
<path d="M127 513.5H143M1149 513.5H1133"/>
<path d="M127 498.5H159M1149 498.5H1117"/>
<path d="M127 482.5H143M1149 482.5H1133"/>
<path d="M127 466.5H143M1149 466.5H1133"/>
<path d="M127 450.5H143M1149 450.5H1133"/>
<path d="M127 434.5H143M1149 434.5H1133"/>
<path d="M127 418.5H159M1149 418.5H1117"/>
<path d="M127 402.5H143M1149 402.5H1133"/>
<path d="M127 386.5H143M1149 386.5H1133"/>
<path d="M127 370.5H143M1149 370.5H1133"/>
<path d="M127 354.5H143M1149 354.5H1133"/>
<path d="M127 338.5H159M1149 338.5H1117"/>
<path d="M127 322.5H143M1149 322.5H1133"/>
<path d="M127 306.5H143M1149 306.5H1133"/>
<path d="M127 290.5H143M1149 290.5H1133"/>
<path d="M127 274.5H143M1149 274.5H1133"/>
<path d="M127 258.5H159M1149 258.5H1117"/>
<path d="M127 242.5H143M1149 242.5H1133"/>
<path d="M127 227.5H143M1149 227.5H1133"/>
<path d="M127 211.5H143M1149 211.5H1133"/>
<path d="M127 195.5H143M1149 195.5H1133"/>
<path d="M127 179.5H159M1149 179.5H1117"/>
<path d="M127 163.5H143M1149 163.5H1133"/>
<path d="M127 147.5H143M1149 147.5H1133"/>
<path d="M127 131.5H143M1149 131.5H1133"/>
<path d="M127 115.5H143M1149 115.5H1133"/>
<path d="M127 99.5H159M1149 99.5H1117"/>
<path d="M168.5 897V884M168.5 99V112"/>
<path d="M219.5 897V884M219.5 99V112"/>
<path d="M270.5 897V884M270.5 99V112"/>
<path d="M321.5 897V872M321.5 99V124"/>
<path d="M372.5 897V884M372.5 99V112"/>
<path d="M423.5 897V884M423.5 99V112"/>
<path d="M474.5 897V884M474.5 99V112"/>
<path d="M525.5 897V872M525.5 99V124"/>
<path d="M576.5 897V884M576.5 99V112"/>
<path d="M627.5 897V884M627.5 99V112"/>
<path d="M678.5 897V884M678.5 99V112"/>
<path d="M729.5 897V872M729.5 99V124"/>
<path d="M780.5 897V884M780.5 99V112"/>
<path d="M831.5 897V884M831.5 99V112"/>
<path d="M882.5 897V884M882.5 99V112"/>
<path d="M934.5 897V872M934.5 99V124"/>
<path d="M985.5 897V884M985.5 99V112"/>
<path d="M1036.5 897V884M1036.5 99V112"/>
<path d="M1087.5 897V884M1087.5 99V112"/>
<path d="M1138.5 897V872M1138.5 99V124"/>
</g>
<g shape-rendering="crispEdges">
<rect x="1026" y="150" width="126" height="3" fill="#000"/>
<rect x="1149" y="105" width="3" height="48" fill="#000"/>
<rect x="1020.5" y="99.5" width="128" height="50" fill="#f2f2f2" stroke="#000" stroke-width="1"/>
<g fill="#ff0000"><path d="M1027 133h1v2h1v2h1v2h-6v-1h1v-1h1v-3h1z"/></g>
</g>
<g fill="#0000ff"><path d="M1031.10 111.00L1031.10 114.00L1028.05 116.30L1026.95 116.30L1023.90 114.00L1023.90 111.00L1026.95 108.70L1028.05 108.70Z"/></g>
<g font-family="Liberation Sans, sans-serif" font-weight="bold" fill="#000">
<text transform="translate(1033,116.7) scale(1,1.06)" font-size="19.2" text-anchor="start">True Muon</text>
<text transform="translate(1033,141.5) scale(1,1.06)" font-size="19.2" text-anchor="start">Fake Muon</text>
<text transform="translate(58.2,42) scale(1,1.12)" text-rendering="geometricPrecision" font-size="9.04">Long Muon ID Eff. V TrackP | MVAout &gt; 0.2000 | All EqualMix AllTracksInEvent:AllTracksInEvent NoReweight EvalNoPreSel | Train:Bs2MuMuGhosts GhF1 Eval:HeavyGhosts | TMVA-Bs2MuMu-IsMuon | MLP Norm BP NCycles750 CE sigmoid SF1.4 CVTest15:1e-16 !UseReg</text>
<text transform="translate(121.1,907.5) scale(1,1.09)" font-size="28" text-anchor="end" text-rendering="geometricPrecision">0</text>
<text transform="translate(121.1,827.5) scale(1,1.09)" font-size="28" text-anchor="end" text-rendering="geometricPrecision">10</text>
<text transform="translate(121.1,748.5) scale(1,1.09)" font-size="28" text-anchor="end" text-rendering="geometricPrecision">20</text>
<text transform="translate(121.1,668.5) scale(1,1.09)" font-size="28" text-anchor="end" text-rendering="geometricPrecision">30</text>
<text transform="translate(121.1,588.5) scale(1,1.09)" font-size="28" text-anchor="end" text-rendering="geometricPrecision">40</text>
<text transform="translate(121.1,509.5) scale(1,1.09)" font-size="28" text-anchor="end" text-rendering="geometricPrecision">50</text>
<text transform="translate(121.1,429.5) scale(1,1.09)" font-size="28" text-anchor="end" text-rendering="geometricPrecision">60</text>
<text transform="translate(121.1,349.5) scale(1,1.09)" font-size="28" text-anchor="end" text-rendering="geometricPrecision">70</text>
<text transform="translate(121.1,269.5) scale(1,1.09)" font-size="28" text-anchor="end" text-rendering="geometricPrecision">80</text>
<text transform="translate(121.1,190.5) scale(1,1.09)" font-size="28" text-anchor="end" text-rendering="geometricPrecision">90</text>
<text transform="translate(122.0,110.5) scale(1,1.09)" font-size="28" text-anchor="end" text-rendering="geometricPrecision">100</text>
<text transform="translate(321.0,936.0) scale(1,1.09)" font-size="28" text-anchor="middle" text-rendering="geometricPrecision">20</text>
<text transform="translate(525.0,936.0) scale(1,1.09)" font-size="28" text-anchor="middle" text-rendering="geometricPrecision">40</text>
<text transform="translate(729.0,936.0) scale(1,1.09)" font-size="28" text-anchor="middle" text-rendering="geometricPrecision">60</text>
<text transform="translate(934.0,936.0) scale(1,1.09)" font-size="28" text-anchor="middle" text-rendering="geometricPrecision">80</text>
<text transform="translate(1138.0,936.0) scale(1,1.09)" font-size="28" text-anchor="middle" text-rendering="geometricPrecision">100</text>
<text transform="translate(1148.4,970.8) scale(1,1.09)" font-size="28" text-anchor="end" text-rendering="geometricPrecision">Long Muon Momentum <tspan font-weight="normal">/</tspan> MeV<tspan font-weight="normal">/</tspan>c</text>
<text transform="translate(47.9,98.4) rotate(-90) scale(1,1.09)" font-size="28" text-anchor="end" text-rendering="geometricPrecision">Efficiency <tspan font-weight="normal">/ %</tspan></text>
<text transform="translate(1167.6,896.3) scale(1,1.09)" font-size="28" text-anchor="start" text-rendering="geometricPrecision">10</text>
<text transform="translate(1197.5,883) scale(1,1.09)" font-size="20" text-anchor="start" text-rendering="geometricPrecision">3</text>
</g>
<g fill="#fff"><rect x="91.12" y="823.79" width="5.37" height="4.51"/><rect x="100.33" y="823.79" width="5.02" height="4.51"/><rect x="76.45" y="106.79" width="5.37" height="4.51"/><rect x="85.66" y="106.79" width="5.02" height="4.51"/><rect x="1115.81" y="932.29" width="5.37" height="4.51"/><rect x="1125.02" y="932.29" width="5.02" height="4.51"/><rect x="1168.76" y="892.59" width="5.37" height="4.51"/><rect x="1177.98" y="892.59" width="5.02" height="4.51"/></g>
<path d="M1153 881.5L1166.5 895.5M1166.5 881.5L1153 895.5" stroke="#000" stroke-width="1.4" fill="none"/>
</svg>
</body></html>
